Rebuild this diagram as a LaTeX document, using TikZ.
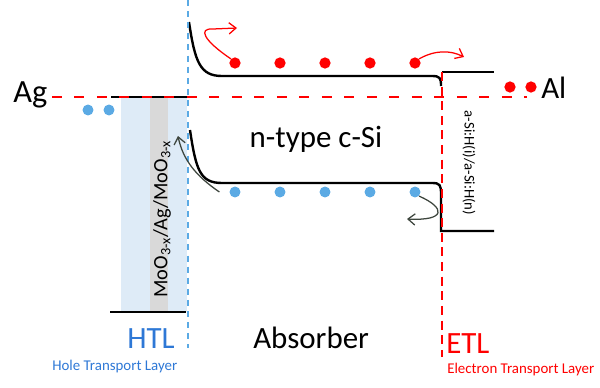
\documentclass[tikz,border=0pt]{standalone}
\usepackage{fontspec}
\setmainfont{Carlito}
\usepackage{tikz}
\usetikzlibrary{arrows.meta}

\definecolor{dotblue}{RGB}{91,170,228}
\definecolor{htlblue}{RGB}{46,120,214}
\definecolor{layerblue}{RGB}{222,235,247}
\definecolor{layergray}{RGB}{217,217,217}
\definecolor{hopgray}{RGB}{62,70,62}

\begin{document}
\begin{tikzpicture}[x=0.025cm,y=-0.025cm,>={Straight Barb[length=5pt,width=8pt]},
  elec/.style={circle,fill=red,inner sep=0pt,minimum size=8pt},
  hole/.style={circle,fill=dotblue,inner sep=0pt,minimum size=7.8pt},
  band/.style={line width=1.7pt},
  big/.style={font=\fontsize{22}{24}\selectfont},
  small/.style={font=\fontsize{10.6}{12}\selectfont}]
\useasboundingbox (0,0) rectangle (600,388);
% HTL stack
\fill[layerblue] (121,97) rectangle (187,312);
\fill[layergray] (150,97) rectangle (168,312);
\draw[line width=1.4pt] (111,97) -- (187,97);
\draw[line width=1.4pt] (110,312) -- (186,312);
\node[rotate=90,font=\fontsize{14.5}{16}\selectfont] (moo) at (162,219) {MoO\textsubscript{3-x}/Ag/MoO\textsubscript{3-x}};
% bands of the absorber
\draw[band] (189,22) .. controls (195,62) and (200,76) .. (222,76) -- (432,76)
  .. controls (440,76) and (441,78) .. (441,86);
\draw[band] (442,72) -- (494,72);
\draw[band] (190,130) .. controls (196,170) and (200,183) .. (222,183) -- (432,183)
  .. controls (440,183) and (441,185) .. (441,194) -- (441,231) -- (494,231);
% contacts and Fermi level
\node[font=\fontsize{23}{26}\selectfont,anchor=base west,inner sep=0pt] (ag) at (13,102) {Ag};
\node[font=\fontsize{22}{26}\selectfont,anchor=base west,inner sep=0pt] (al) at (541,98) {Al};
\draw[red,line width=2pt,dash pattern=on 7pt off 9pt] (52,97) -- (527,97);
\draw[dotblue,line width=1.1pt,dash pattern=on 4.3pt off 3.6pt] (188,0) -- (188,348);
\draw[red,line width=1.8pt,dash pattern=on 6.4pt off 4pt] (442,72) -- (442,357);
% carriers
\foreach \i/\x in {1/235,2/280,3/325,4/370,5/415} {
  \node[elec] (e\i) at (\x,63) {};
  \node[hole] (h\i) at (\x,192) {};
}
\node[elec] (ea) at (510,87) {};
\node[elec] (eb) at (531,87) {};
\node[hole] (ha) at (88,110) {};
\node[hole] (hb) at (109,110) {};
\coordinate (hookend) at (237,28);
\coordinate (hopend) at (464,57);
\coordinate (upend) at (178,136);
\coordinate (backend) at (407,219);
\draw[red,line width=0.9pt,->] (e1.north west) .. controls (203,40) and (198,28) .. (213,29) -- (hookend);
\draw[red,line width=0.9pt,->] (e5.north east) .. controls (435,50) and (450,50) .. (hopend);
\draw[hopgray,line width=0.9pt,->] ([xshift=-7pt]h1.west) .. controls (196,176) and (183,160) .. (upend);
\draw[hopgray,line width=0.9pt,->] (h5.south east) .. controls (446,208) and (446,221) .. (backend);
% labels
\node[big] (nsi) at (316,139) {n-type c-Si};
\node[rotate=-90,font=\fontsize{10.5}{12}\selectfont] (asi) at (469,163) {a-Si:H(i)/a-Si:H(n)};
\node[big,htlblue,anchor=base west,inner sep=0pt] (htl) at (127,348) {HTL};
\node[big,anchor=base west,inner sep=0pt] (abs) at (253,348) {Absorber};
\node[big,red,anchor=base west,inner sep=0pt] (etl) at (446,353) {ETL};
\node[small,htlblue,anchor=base west,inner sep=0pt] (htlname) at (52,370) {Hole Transport Layer};
\node[small,red,anchor=base west,inner sep=0pt] (etlname) at (447,373) {Electron Transport Layer};
\end{tikzpicture}
\end{document}
